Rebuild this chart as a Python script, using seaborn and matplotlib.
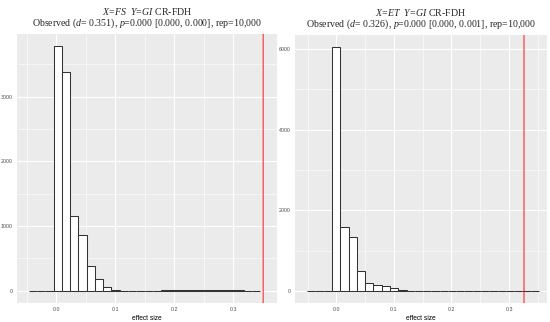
import numpy as np
import pandas as pd
import matplotlib
matplotlib.use("Agg")
import matplotlib.pyplot as plt
import seaborn as sns
from matplotlib.ticker import MultipleLocator

# ---------------- data ----------------
left_title1 = r"$\mathit{X\!=\!FS\ \ Y\!=\!GI}$ CR-FDH"
left_title2 = r"Observed ($\mathit{d}$= 0.351), $\mathit{p}$=0.000 [0.000, 0.000], rep=10,000"
right_title1 = r"$\mathit{X\!=\!ET\ \ Y\!=\!GI}$ CR-FDH"
right_title2 = r"Observed ($\mathit{d}$= 0.326), $\mathit{p}$=0.000 [0.000, 0.001], rep=10,000"

left_observed = 0.351
right_observed = 0.326

left_bin_start = -0.0467
left_bin_width = 0.01404
left_counts = [0, 0, 0, 3780, 3385, 1155, 857, 385, 180, 52, 8, 2, 1, 2,
               3, 4, 5, 7, 9, 11, 13, 14, 13, 11, 8, 6, 4, 2]

right_bin_start = -0.051
right_bin_width = 0.0144
right_counts = [0, 0, 0, 6050, 1597, 1326, 504, 182, 133, 108, 59, 20, 2, 2,
                1, 1, 2, 2, 2, 2, 2, 2, 1, 1, 1, 0, 0, 0]

left_yticks = [0, 1000, 2000, 3000]
right_yticks = [0, 2000, 4000, 6000]
xticks = [0.0, 0.1, 0.2, 0.3]
xlabel = "effect size"

# ---------------- style ----------------
sns.set_theme(style="darkgrid")
plt.rcParams["font.family"] = ["Liberation Sans", "DejaVu Sans"]
plt.rcParams["mathtext.fontset"] = "custom"
plt.rcParams["mathtext.rm"] = "Liberation Serif"
plt.rcParams["mathtext.it"] = "Liberation Serif:italic"

fig = plt.figure(figsize=(5.5, 3.22), dpi=100)
W, H = 550, 322
axL = fig.add_axes([17 / W, 19 / H, 260 / W, 269 / H])
axR = fig.add_axes([295 / W, 19 / H, 252 / W, 268 / H])


def draw(ax, start, width, counts, observed, yticks, t1, t2, xlim):
    n = len(counts)
    centers = start + width * (np.arange(n) + 0.5)
    df = pd.DataFrame({"x": centers, "w": counts})
    sns.histplot(data=df, x="x", weights="w", binwidth=width,
                 binrange=(start, start + n * width), ax=ax,
                 color="white", edgecolor="#333333", linewidth=0.75,
                 alpha=1.0, stat="count", zorder=3)
    ax.axvline(observed, color="#FF0000", lw=0.65, zorder=5, snap=False)
    ax.set_facecolor("#EBEBEB")
    ymax = max(counts)
    ax.set_ylim(-0.05 * ymax, 1.05 * ymax)
    ax.set_xlim(*xlim)
    ax.set_xticks(xticks)
    ax.set_xticklabels([f"{v:.1f}" for v in xticks])
    ax.set_yticks(yticks)
    ax.set_yticklabels([str(v) for v in yticks])
    ax.xaxis.set_minor_locator(MultipleLocator(0.05))
    ax.yaxis.set_minor_locator(MultipleLocator(yticks[1] / 2))
    ax.grid(which="major", color="white", lw=0.8, zorder=0)
    ax.grid(which="minor", color="white", lw=0.4, zorder=0)
    ax.set_axisbelow(True)
    for s in ax.spines.values():
        s.set_visible(False)
    ax.tick_params(axis="both", which="major", labelsize=3.8, colors="#4D4D4D",
                   length=2, width=0.6, pad=1.2)
    ax.tick_params(axis="both", which="minor", length=0)
    ax.set_xlabel(xlabel, fontsize=4.8, color="black", labelpad=1.5)
    ax.set_ylabel("")
    ax.text(0.5, 1.0 + 22.5 / 268, t1, transform=ax.transAxes, ha="center", va="center",
            fontsize=7.1, family="Liberation Serif")
    ax.text(0.5, 1.0 + 11 / 268, t2, transform=ax.transAxes, ha="center", va="center",
            fontsize=7.1, family="Liberation Serif")


draw(axL, left_bin_start, left_bin_width, left_counts, left_observed,
     left_yticks, left_title1, left_title2, (-0.0666, 0.3745))
draw(axR, right_bin_start, right_bin_width, right_counts, right_observed,
     right_yticks, right_title1, right_title2, (-0.072, 0.366))

fig.savefig("out.png", dpi=100, facecolor="white")
